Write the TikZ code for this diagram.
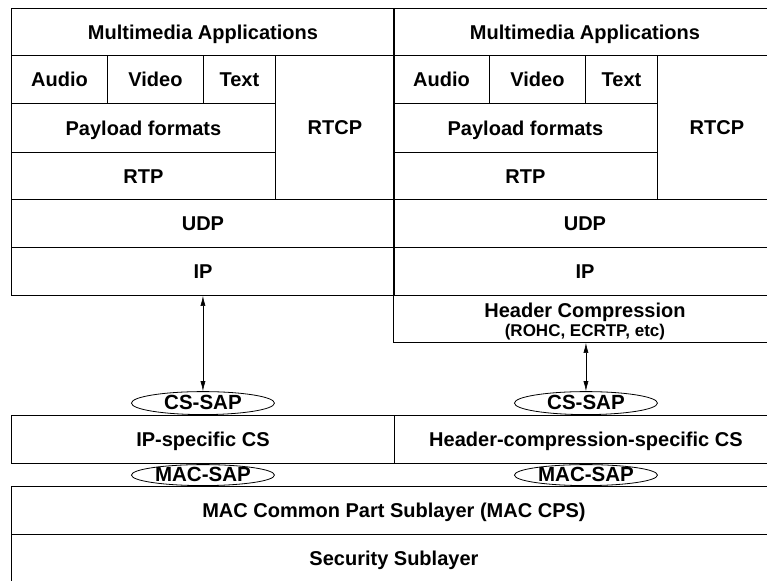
\documentclass[tikz,border=0pt]{standalone}
\usepackage{fontspec}
\setmainfont{Liberation Sans}
\usetikzlibrary{arrows.meta}
\usetikzlibrary{shapes.geometric}

\tikzset{
 layer/.style n args={2}{draw, line width=.9pt, anchor=north west, inner sep=0,
   minimum width=#1, minimum height=#2, text height=14.4pt, text depth=0pt,
   font=\bfseries\fontsize{20}{22}\selectfont},
 hcbox/.style={draw, line width=.9pt, anchor=north west, inner sep=0,
   minimum width=383, minimum height=47, align=center,
   font=\bfseries\fontsize{20}{22}\selectfont},
 sap/.style={draw, ellipse, line width=.8pt, inner sep=0, fill=white,
   minimum width=143, minimum height=#1, text height=12pt, text depth=0pt,
   font=\bfseries\fontsize{20.5}{22}\selectfont},
}

\begin{document}
\begin{tikzpicture}[x=1pt, y=-1pt, >={Latex[length=10pt,width=5pt]}]
\clip (0,0) rectangle (767,580);
% two protocol stacks, side by side
\foreach \s/\x in {l/11, r/393} {
 \node[layer={383}{47}] (app\s)   at (\x,8)      {Multimedia Applications};
 \node[layer={96}{48}]  (audio\s) at (\x,55)     {Audio};
 \node[layer={96}{48}]  (video\s) at (\x+96,55)  {Video};
 \node[layer={72}{48}]  (text\s)  at (\x+192,55) {Text};
 \node[layer={264}{49}] (pay\s)   at (\x,103)    {Payload formats};
 \node[layer={264}{47}] (rtp\s)   at (\x,152)    {RTP};
 \node[layer={119}{144}] (rtcp\s) at (\x+264,55) {RTCP};
 \node[layer={383}{48}] (udp\s)   at (\x,199)    {UDP};
 \node[layer={383}{48}] (ip\s)    at (\x,247)    {IP};
}
\node[hcbox] (hc) at (393,295)
 {\rule{0pt}{20pt}Header Compression\\[-3pt]{\fontsize{17}{18}\selectfont (ROHC, ECRTP, etc)}};
% convergence and MAC sublayers
\node[layer={383}{48}] (ipcs) at (11,415)  {IP-specific CS};
\node[layer={383}{48}] (hccs) at (394,415) {Header-compression-specific CS};
\node[layer={765}{48}] (cps)  at (11,486)  {MAC Common Part Sublayer (MAC CPS)};
\node[layer={765}{48}] (sec)  at (11,534)  {Security Sublayer};
% service access points
\node[sap=23, anchor=south] (cssapl) at (ipcs.north) {CS-SAP};
\node[sap=23, anchor=south] (cssapr) at (hccs.north) {CS-SAP};
\node[sap=21, anchor=south] (macsapl) at (cps.north -| ipcs) {MAC-SAP};
\node[sap=21, anchor=south] (macsapr) at (cps.north -| hccs) {MAC-SAP};
\draw[<->, line width=.6pt] (cssapl |- ipl.south) -- (cssapl.north);
\draw[<->, line width=.6pt] (cssapr |- hc.south) -- (cssapr.north);
\end{tikzpicture}
\end{document}
